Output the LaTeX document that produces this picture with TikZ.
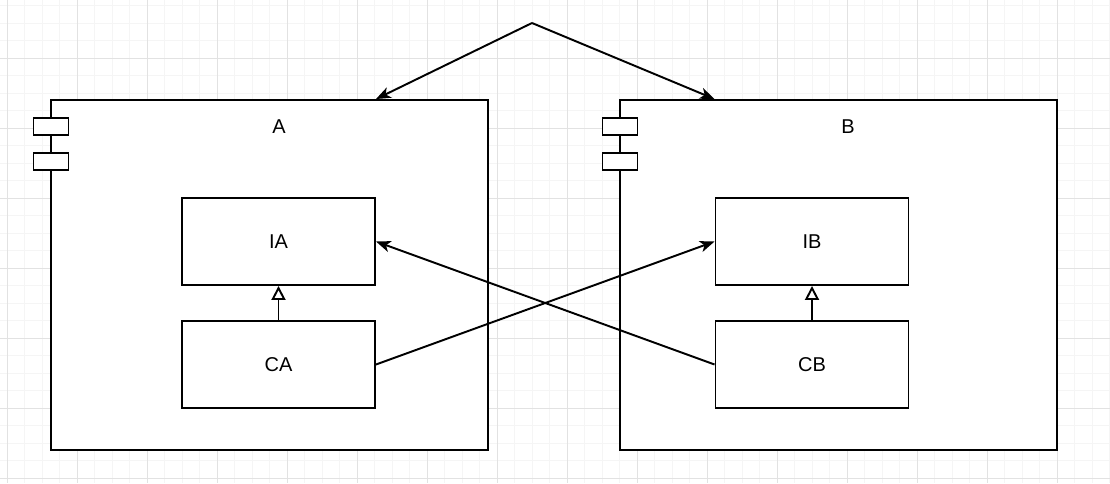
\documentclass[tikz,border=0pt]{standalone}
\usepackage{fontspec}
\setmainfont{Liberation Sans}
\usetikzlibrary{arrows.meta, positioning, calc}
\definecolor{gridminor}{RGB}{245, 245, 245}
\definecolor{gridmajor}{RGB}{226, 226, 226}

\begin{document}
\begin{tikzpicture}[x=0.75pt, y=-0.75pt,
    every node/.style={font=\fontsize{15}{18}\selectfont},
    box/.style={draw, line width=1.45pt, fill=white, inner sep=0pt,
                minimum width={193*0.75pt}, minimum height={87*0.75pt}},
    comp/.style={draw, line width=1.45pt, fill=white, inner sep=0pt,
                 minimum width={437*0.75pt}, minimum height={350*0.75pt}},
    tab/.style={draw, line width=1.45pt, fill=white, inner sep=0pt,
                minimum width={35*0.75pt}, minimum height={17*0.75pt}},
    dep/.style={line width=1.45pt, -{Stealth[length=11pt, width=8.5pt, inset=3pt]}},
    gen/.style={line width=1.45pt, -{Triangle[open, fill=white, length=10.5pt, width=10.5pt]}}]
    \useasboundingbox (0,0) rectangle (1110,483);

    % Background grid
    \foreach \i in {0,...,63}
      \draw[gridminor, line width=0.5pt] (7.3+17.5*\i,0) -- (7.3+17.5*\i,483);
    \foreach \j in {0,...,27}
      \draw[gridminor, line width=0.5pt] (0,5.8+17.5*\j) -- (1110,5.8+17.5*\j);
    \foreach \i in {0,...,15}
      \draw[gridmajor, line width=0.5pt] (7.3+70*\i,0) -- (7.3+70*\i,483);
    \foreach \j in {0,...,6}
      \draw[gridmajor, line width=0.5pt] (0,58.3+70*\j) -- (1110,58.3+70*\j);

    % Component A
    \node[comp] (compA) at (269.5, 275) {};
    \node[tab] (tabA1) at (51, 126.5) {};
    \node[tab] (tabA2) at (51, 161.5) {};
    \node (labA) at (279, 127) {A};
    \node[box] (iA) at (278.5, 241.5) {IA};
    \node[box] (cA) at (278.5, 364.5) {CA};

    % Component B
    \node[comp] (compB) at (838.5, 275) {};
    \node[tab] (tabB1) at (620, 126.5) {};
    \node[tab] (tabB2) at (620, 161.5) {};
    \node (labB) at (848, 127) {B};
    \node[box] (iB) at (812, 241.5) {IB};
    \node[box] (cB) at (812, 364.5) {CB};

    % Top branch
    \coordinate (top) at (532, 23);
    \draw[dep] (top) -- (compA.north -| iA.east);
    \draw[dep] (top) -- (compB.north -| iB.west);

    % Realisations
    \draw[gen] (cA) -- (iA);
    \draw[gen] (cB) -- (iB);

    % Cross dependencies
    \draw[dep] (cA.east) -- (iB.west);
    \draw[dep] (cB.west) -- (iA.east);
\end{tikzpicture}
\end{document}
